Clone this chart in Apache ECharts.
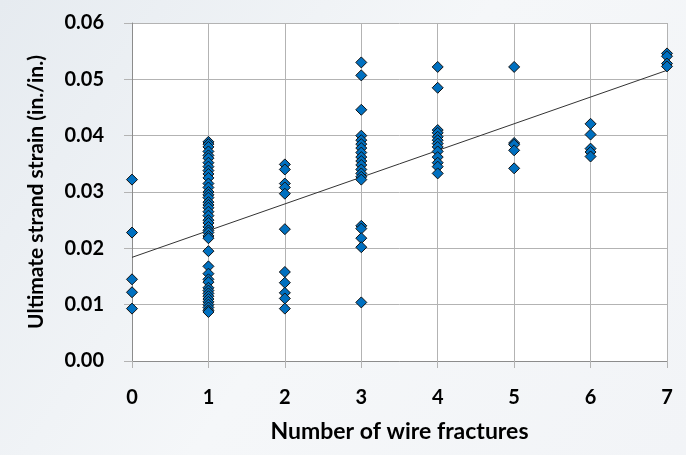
<!DOCTYPE html>
<html>
<head>
<meta charset="utf-8">
<script src="https://cdn.jsdelivr.net/npm/echarts@6/dist/echarts.min.js"></script>
<style>
html,body{margin:0;padding:0;background:#fff;}
#c{width:686px;height:455px;}
</style>
</head>
<body>
<div id="c"></div>
<script>
// Number of wire fractures (x categories)
const fractureCounts = [0, 1, 2, 3, 4, 5, 6, 7];
// Ultimate strand strain values observed for each fracture count
const strainAt0 = [0.0322, 0.0228, 0.0145, 0.0122, 0.0093];
const strainAt1 = [0.0389, 0.0385, 0.0380, 0.0372, 0.0365, 0.0360, 0.0352, 0.0345, 0.0338, 0.0332,
                   0.0325, 0.0315, 0.0308, 0.0300, 0.0295, 0.0290, 0.0282, 0.0277, 0.0272, 0.0265,
                   0.0258, 0.0250, 0.0245, 0.0238, 0.0232, 0.0228, 0.0222, 0.0218, 0.0195, 0.0168,
                   0.0155, 0.0145, 0.0140, 0.0130, 0.0125, 0.0120, 0.0115, 0.0110, 0.0105, 0.0100,
                   0.0095, 0.0090, 0.0087];
const strainAt2 = [0.0349, 0.0340, 0.0315, 0.0308, 0.0297, 0.0234, 0.0158, 0.0139, 0.0121, 0.0111, 0.0093];
const strainAt3 = [0.0530, 0.0507, 0.0446, 0.0400, 0.0392, 0.0385, 0.0378, 0.0370, 0.0362, 0.0355,
                   0.0348, 0.0340, 0.0333, 0.0327, 0.0322, 0.0240, 0.0235, 0.0218, 0.0202, 0.0104];
const strainAt4 = [0.0522, 0.0485, 0.0410, 0.0405, 0.0398, 0.0392, 0.0386, 0.0380, 0.0372, 0.0362,
                   0.0352, 0.0345, 0.0333];
const strainAt5 = [0.0522, 0.0387, 0.0384, 0.0374, 0.0342];
const strainAt6 = [0.0421, 0.0402, 0.0377, 0.0371, 0.0363];
const strainAt7 = [0.0546, 0.0541, 0.0528, 0.0523];
// Linear trendline endpoints
const trendX = [0, 7];
const trendY = [0.0184, 0.0516];
// Axis ticks
const yTicks = [0, 0.01, 0.02, 0.03, 0.04, 0.05, 0.06];
const xTicks = [0, 1, 2, 3, 4, 5, 6, 7];

const groups = [strainAt0, strainAt1, strainAt2, strainAt3, strainAt4, strainAt5, strainAt6, strainAt7];
const points = [];
groups.forEach((arr, i) => arr.forEach(v => points.push([fractureCounts[i], v])));
const trend = trendX.map((x, i) => [x, trendY[i]]);

const FONT = 'Lato';
const chart = echarts.init(document.getElementById('c'));
chart.setOption({
  animation: false,
  backgroundColor: {
    type: 'linear', x: 0, y: 0, x2: 1, y2: 1,
    colorStops: [{offset: 0, color: '#e6ebf0'}, {offset: 0.5, color: '#f5f7f9'}, {offset: 1, color: '#f2f4f7'}]
  },
  grid: {
    left: 132, right: 19, top: 23, bottom: 94,
    show: true, backgroundColor: '#ffffff', borderWidth: 0
  },
  xAxis: {
    type: 'value', min: xTicks[0], max: xTicks[xTicks.length - 1], interval: 1,
    name: 'Number of wire fractures', nameLocation: 'middle', nameGap: 59,
    nameTextStyle: {fontFamily: FONT, fontWeight: 'bold', fontSize: 23, color: '#000'},
    axisLine: {show: true, lineStyle: {color: '#8c8c8c', width: 1}},
    axisTick: {show: true, length: 7, lineStyle: {color: '#b3b3b3'}},
    axisLabel: {margin: 27, fontFamily: FONT, fontWeight: 'bold', fontSize: 20, color: '#000'},
    splitLine: {show: true, lineStyle: {color: '#b3b3b3', width: 1}}
  },
  yAxis: {
    type: 'value', min: yTicks[0], max: yTicks[yTicks.length - 1], interval: 0.01,
    name: 'Ultimate strand strain (in./in.)', nameLocation: 'middle', nameRotate: 90, nameGap: 85,
    nameTextStyle: {fontFamily: FONT, fontWeight: 'bold', fontSize: 21, color: '#000'},
    axisLine: {show: true, lineStyle: {color: '#8c8c8c', width: 1}},
    axisTick: {show: true, length: 8, lineStyle: {color: '#b3b3b3'}},
    axisLabel: {margin: 28, fontFamily: FONT, fontWeight: 'bold', fontSize: 20, color: '#000',
                formatter: v => v.toFixed(2)},
    splitLine: {show: true, lineStyle: {color: '#b3b3b3', width: 1}}
  },
  series: [
    {
      type: 'line', data: trend, symbol: 'none', silent: true,
      lineStyle: {color: '#333333', width: 1}, z: 3
    },
    {
      type: 'scatter', data: points, symbol: 'diamond', symbolSize: 11,
      itemStyle: {color: '#0070c0', borderColor: '#111111', borderWidth: 1, opacity: 1}, z: 4
    }
  ]
});
</script>
</body>
</html>
